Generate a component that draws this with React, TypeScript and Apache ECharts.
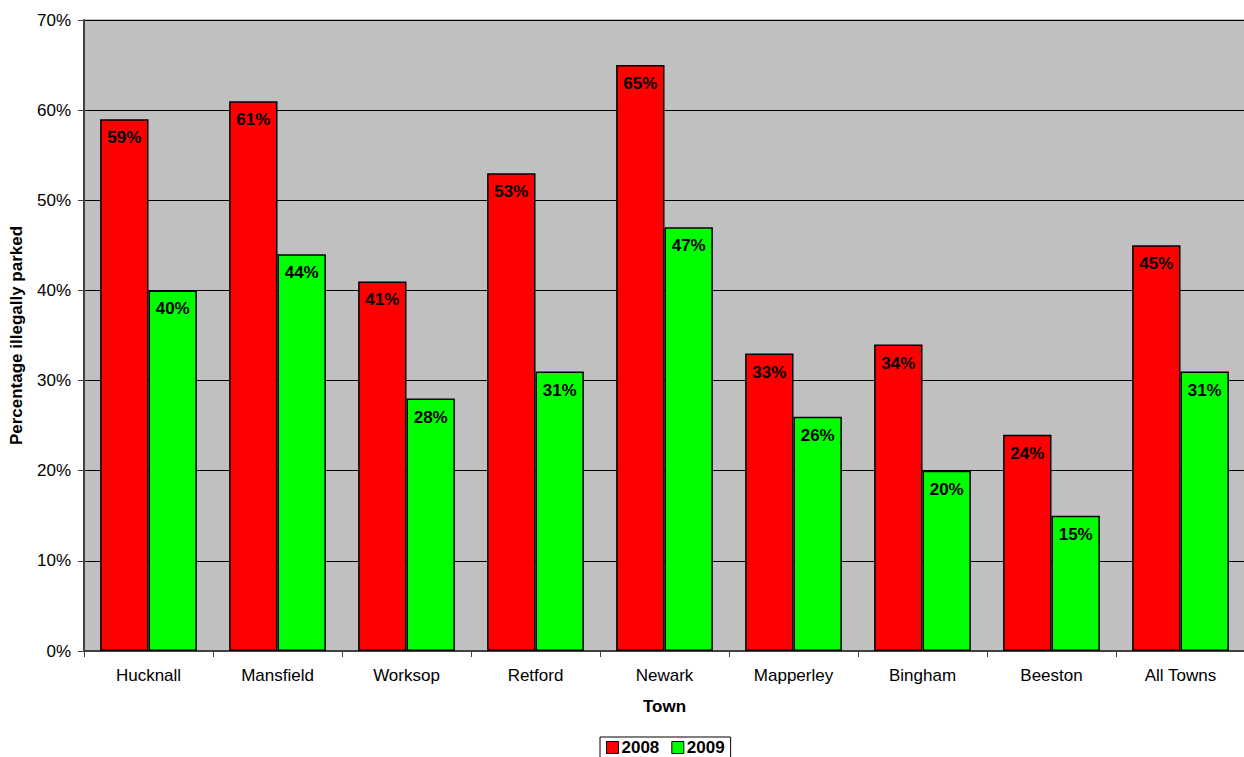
import React, { useEffect, useRef } from "react";
import * as echarts from "echarts";

const towns = ["Hucknall", "Mansfield", "Worksop", "Retford", "Newark", "Mapperley", "Bingham", "Beeston", "All Towns"];
const values2008 = [59, 61, 41, 53, 65, 33, 34, 24, 45];
const values2009 = [40, 44, 28, 31, 47, 26, 20, 15, 31];
const seriesNames = ["2008", "2009"];
const yTicks = { min: 0, max: 70, interval: 10 };

const FONT = "Liberation Sans, Arial, sans-serif";

export default function App() {
  const ref = useRef<HTMLDivElement>(null);
  useEffect(() => {
    const chart = echarts.init(ref.current!, null, { renderer: "svg" });
    const label = {
      show: true,
      position: "insideTop" as const,
      distance: 10,
      formatter: "{c}%",
      color: "#000",
      fontWeight: "bold" as const,
      fontSize: 17,
      fontFamily: FONT,
    };
    chart.setOption({
      animation: false,
      textStyle: { fontFamily: FONT },
      grid: {
        left: 84,
        right: -1,
        top: 20,
        bottom: 106,
        outerBoundsMode: "none",
        containLabel: false,
        show: true,
        backgroundColor: "#C0C0C0",
        borderColor: "#808080",
        borderWidth: 1,
      },
      legend: {
        data: seriesNames,
        top: 737,
        left: 600,
        itemWidth: 12,
        itemHeight: 12,
        itemGap: 12,
        padding: [2, 6, 6, 6],
        borderColor: "#000",
        borderWidth: 1,
        textStyle: { fontWeight: "bold", fontSize: 17, color: "#000", fontFamily: FONT, padding: [0, 0, 0, -2] },
        icon: "rect",
        itemStyle: { borderColor: "#000", borderWidth: 1 },
      },
      xAxis: {
        type: "category",
        data: towns,
        name: "Town",
        nameLocation: "middle",
        nameGap: 47,
        nameTextStyle: { fontWeight: "bold", fontSize: 17, color: "#000", fontFamily: FONT },
        axisLine: { lineStyle: { color: "#404040", width: 2 } },
        axisTick: { show: true, inside: false, length: 6, lineStyle: { color: "#404040" } },
        axisLabel: { color: "#000", fontSize: 17, margin: 16, fontFamily: FONT },
      },
      yAxis: {
        type: "value",
        min: yTicks.min,
        max: yTicks.max,
        interval: yTicks.interval,
        name: "Percentage illegally parked",
        nameLocation: "middle",
        nameGap: 59,
        nameTextStyle: { fontWeight: "bold", fontSize: 17, color: "#000", fontFamily: FONT },
        axisLine: { show: true, lineStyle: { color: "#404040", width: 2 } },
        axisTick: { show: true, inside: false, length: 6, lineStyle: { color: "#404040" } },
        axisLabel: { color: "#000", fontSize: 17, formatter: "{value}%", margin: 13, fontFamily: FONT },
        splitLine: { show: true, lineStyle: { color: "#000", width: 1 } },
      },
      series: [
        {
          name: seriesNames[0],
          type: "bar",
          data: values2008,
          barGap: "0%",
          barCategoryGap: "25%",
          itemStyle: { color: "#FF0000", borderColor: "#000", borderWidth: 1.5 },
          label,
        },
        {
          name: seriesNames[1],
          type: "bar",
          data: values2009,
          itemStyle: { color: "#00FF00", borderColor: "#000", borderWidth: 1.5 },
          label,
        },
      ],
    });
    return () => chart.dispose();
  }, []);
  return <div ref={ref} style={{ width: 1244, height: 757, position: "absolute", left: 0, top: 0 }} />;
}
